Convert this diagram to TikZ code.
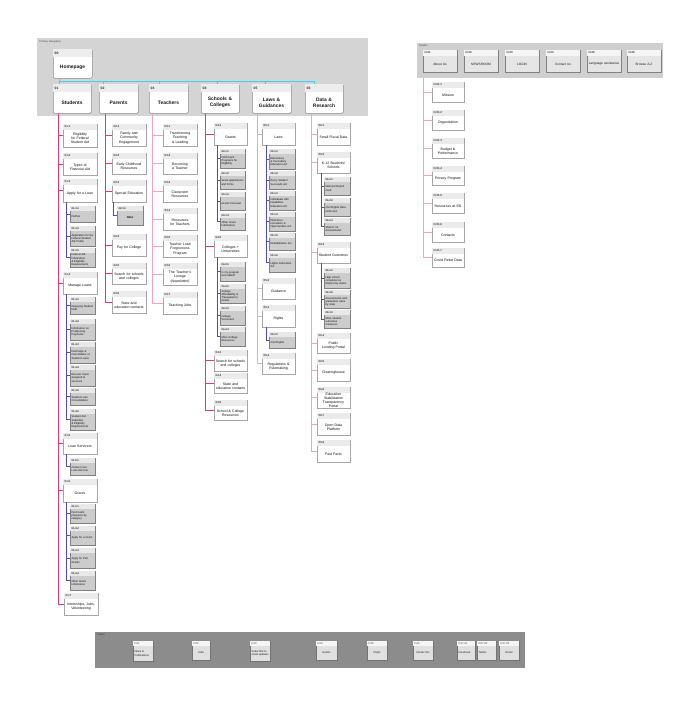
\documentclass[tikz,border=0pt]{standalone}
\usepackage{fontspec}
\setmainfont{Liberation Sans}
\hyphenpenalty=10000
\exhyphenpenalty=10000
\tolerance=9999
\emergencystretch=5pt
\hbadness=10000
\definecolor{redline}{HTML}{E8366E}
\definecolor{pinkline}{HTML}{F4A3BE}
\definecolor{blueline}{HTML}{4B4BC6}
\definecolor{cyanline}{HTML}{3CCFF0}
\tikzset{
  Lbody/.style={draw=black!45, fill=white, rounded corners=1.2pt, line width=0.5pt, inner sep=0pt},
  Lhead/.style={fill=black!7},
  Lid/.style={font=\fontsize{3.4}{4}\selectfont\bfseries, text=black!85, inner sep=0pt},
  Ltxt/.style={font=\fontsize{4.9}{5.7}\selectfont\bfseries, align=center, inner sep=0pt, text=black!90},
  Cbody/.style={draw=black!35, fill=white, line width=0.45pt, inner sep=0pt},
  Chead/.style={fill=black!8},
  Cid/.style={font=\fontsize{2.8}{3.2}\selectfont\bfseries, text=black!80, inner sep=0pt},
  Ctxt/.style={font=\fontsize{3.5}{4.1}\selectfont, align=center, inner sep=0pt, text=black!95},
  Gbody/.style={draw=black!50, fill=black!20, line width=0.45pt, inner sep=0pt},
  Ghead/.style={fill=black!9},
  Gid/.style={font=\fontsize{2.6}{3}\selectfont\bfseries, text=black!85, inner sep=0pt},
  Gtxt/.style={font=\fontsize{2.7}{3.2}\selectfont, align=left, inner sep=0pt, text=black!95},
  Hbody/.style={draw=black!50, fill=black!10, line width=0.45pt, inner sep=0pt},
  Hhead/.style={fill=black!4},
  Hid/.style={font=\fontsize{2.8}{3.2}\selectfont\bfseries, text=black!80, inner sep=0pt},
  Htxt/.style={font=\fontsize{3.2}{3.8}\selectfont, align=center, inner sep=0pt, text=black!90},
  Fbody/.style={draw=black!55, fill=black!12, line width=0.45pt, inner sep=0pt},
  Fhead/.style={fill=black!4},
  Fid/.style={font=\fontsize{2.6}{3}\selectfont, text=black!80, inner sep=0pt},
  Ftxt/.style={font=\fontsize{2.7}{3.2}\selectfont, align=left, inner sep=0pt, text=black!90},
  redl/.style={draw=redline, line width=0.8pt},
  pinkl/.style={draw=pinkline, line width=0.8pt},
  bluel/.style={draw=blueline, line width=0.6pt},
  cyanl/.style={draw=cyanline, line width=0.8pt},
  bandlabel/.style={font=\fontsize{2.6}{3}\selectfont, text=black!70, inner sep=0pt, anchor=north west},
}
% #1 kind, #2 name, #3 x, #4 y, #5 w, #6 h, #7 header height, #8 id, #9 label
\newcommand\bx[9]{%
  \pgfmathsetmacro\bxtw{#5-3}%
  \node[#1body, anchor=north west, minimum width=#5pt, minimum height=#6pt] (#2) at (#3,#4) {};
  \fill[#1head] ({#3+0.4},{#4+0.4}) rectangle ({#3+#5-0.4},{#4+#7});
  \node[#1id, anchor=west] (#2i) at ({#3+1.5},{#4+#7/2}) {#8};
  \node[#1txt, text width=\bxtw pt] (#2t) at ({#3+#5/2},{#4+(#6+#7)/2}) {#9};
}
\begin{document}
\begin{tikzpicture}[x=1pt,y=-1pt]
\path[use as bounding box, fill=white] (0,0) rectangle (700,713);

% ---------- bands ----------
\fill[black!17] (37,38) rectangle (368,116);
\node[bandlabel] (plab) at (39,40) {Primary Navigation};
\fill[black!19] (417,43) rectangle (663,78);
\node[bandlabel] (hlab) at (419,44.5) {Header};
\fill[black!45] (95,632) rectangle (525,668);
\node[bandlabel, text=black!80] (flab) at (97,634) {Footer};

% ---------- primary navigation ----------
\bx{L}{home}{53}{49}{39}{29}{8}{00}{Homepage}
\bx{L}{l01}{53}{84}{38}{29}{8}{01}{Students}
\bx{L}{l02}{99}{84}{39}{29}{8}{02}{Parents}
\bx{L}{l03}{149}{84}{39}{29}{8}{03}{Teachers}
\bx{L}{l04}{201}{84}{38}{29}{8}{04}{Schools \& Colleges}
\bx{L}{l05}{252}{84}{39}{29}{8}{05}{Laws \& Guidances}
\bx{L}{l06}{305}{84}{38}{29}{8}{06}{Data \& Research}

\coordinate (bus) at (59,81);
\draw[cyanl] (home.south -| bus) -- (bus) -- (l01.north -| bus);
\draw[cyanl] (bus) -| ([xshift=4pt]l02.north west);
\draw[cyanl] (bus) -| ([xshift=10pt]l03.north west);
\draw[cyanl] (bus) -| ([xshift=16pt]l04.north west);
\draw[cyanl] (bus) -| ([xshift=13pt]l05.north west);
\draw[cyanl] (bus) -| ([xshift=9pt]l06.north west);

% ---------- column 01 ----------
\bx{C}{c011}{63}{124}{34}{23}{6}{01.1}{Eligibility for Federal Student Aid}
\bx{C}{c012}{63}{153}{34}{22}{6}{01.2}{Types of Financial Aid}
\bx{C}{c013}{63}{179}{34}{23}{6}{01.3}{Apply for a Loan}
\bx{G}{g0131}{70}{206}{25}{16}{5}{01.3.1}{FAFSA}
\bx{G}{g0132}{70}{226}{25}{20}{5}{01.3.2}{Application for the Federal Student Aid Profile}
\bx{G}{g0133}{70}{248}{25}{19}{5}{01.3.3}{Federal Aid Information \& Eligibility Requirements}
\bx{C}{c014}{63}{272}{34}{22}{6}{01.4}{Manage Loans}
\bx{G}{g0141}{70}{297}{25}{17}{5}{01.4.1}{Repaying Student Debt}
\bx{G}{g0142}{70}{319}{25}{21}{5}{01.4.2}{Information on Postponing Payments}
\bx{G}{g0143}{70}{342}{25}{21}{5}{01.4.3}{Discharge \& Cancellation of Student Loans}
\bx{G}{g0144}{70}{365}{25}{21}{5}{01.4.4}{Recover loans assigned to servicers}
\bx{G}{g0145}{70}{388}{25}{17}{5}{01.4.5}{Student Loan Consolidation}
\bx{G}{g0146}{70}{409}{25}{21}{5}{01.4.6}{Student Aid Subsidies \& Eligibility Requirements}
\bx{C}{c015}{63}{433}{34}{21}{6}{01.5}{Loan Servicers}
\bx{G}{g0151}{70}{458}{25}{17}{5}{01.5.1}{Contact your Loan Servicer}
\bx{C}{c016}{63}{479}{34}{23}{6}{01.6}{Grants}
\bx{G}{g0161}{70}{504}{25}{19}{5}{01.6.1}{Find Grant programs by category}
\bx{G}{g0162}{70}{526}{25}{19}{5}{01.6.2}{Apply for a Grant}
\bx{G}{g0163}{70}{548}{25}{20}{5}{01.6.3}{Apply for Pell Grants}
\bx{G}{g0164}{70}{571}{25}{19}{5}{01.6.4}{Other Grant Information}
\bx{C}{c017}{64}{593}{34}{22}{6}{01.7}{Internships, Jobs, Volunteering}
\foreach \n in {c011,c012,c013,c014,c015,c016,c017}
  \draw[redl] ([xshift=5pt]l01.south west) |- (\n.west);
\foreach \n in {g0131,g0132,g0133} \draw[bluel] ([xshift=3pt]c013.south west) |- (\n.west);
\foreach \n in {g0141,g0142,g0143,g0144,g0145,g0146} \draw[bluel] ([xshift=3pt]c014.south west) |- (\n.west);
\draw[bluel] ([xshift=3pt]c015.south west) |- (g0151.west);
\foreach \n in {g0161,g0162,g0163,g0164} \draw[bluel] ([xshift=3pt]c016.south west) |- (\n.west);

% ---------- column 02 ----------
\bx{C}{c021}{112}{124}{34}{22}{6}{02.1}{Family and Community Engagement}
\bx{C}{c022}{112}{153}{34}{21}{6}{02.2}{Early Childhood Resources}
\bx{C}{c023}{112}{180}{34}{22}{6}{02.3}{Special Education}
\bx{G}{g0231}{117}{206}{26}{19}{5}{02.3.1}{\hfil\bfseries IDEA}
\bx{C}{c024}{112}{234}{34}{22}{6}{02.4}{Pay for College}
\bx{C}{c025}{112}{263}{34}{21}{6}{02.5}{Search for schools and colleges}
\bx{C}{c026}{112}{291}{34}{22}{6}{02.6}{State and education contacts}
\foreach \n in {c021,c022,c023,c024,c025,c026}
  \draw[redl] ([xshift=6pt]l02.south west) |- (\n.west);
\draw[bluel] ([xshift=1.5pt]c023.south west) |- (g0231.west);

% ---------- column 03 ----------
\bx{C}{c031}{163}{124}{34}{22}{6}{03.1}{Transforming Teaching \& Leading}
\bx{C}{c032}{163}{153}{34}{21}{6}{03.2}{Becoming a Teacher}
\bx{C}{c033}{163}{180}{34}{22}{6}{03.3}{Classroom Resources}
\bx{C}{c034}{163}{208}{34}{22}{6}{03.4}{Resources for Teachers}
\bx{C}{c035}{163}{235}{34}{22}{6}{03.5}{Teacher Loan Forgiveness Program}
\bx{C}{c036}{163}{263}{34}{22}{6}{03.6}{The Teacher's Lounge (Newsletter)}
\bx{C}{c037}{163}{292}{34}{22}{6}{03.7}{Teaching Jobs}
\foreach \n in {c031,c032,c033,c034,c035,c036,c037}
  \draw[pinkl] ([xshift=3pt]l03.south west) |- (\n.west);

% ---------- column 04 ----------
\bx{C}{c041}{214}{123}{33}{22}{6}{04.1}{Grants}
\bx{G}{g0411}{220}{149}{25}{19}{5}{04.1.1}{Find Grant Programs for Eligibility}
\bx{G}{g0412}{220}{171}{25}{18}{5}{04.1.2}{Grant applications and forms}
\bx{G}{g0413}{220}{192}{25}{18}{5}{04.1.3}{Grants Forecast}
\bx{G}{g0414}{220}{213}{25}{17}{5}{04.1.4}{Other Grant Information}
\bx{C}{c042}{214}{235}{33}{22}{6}{04.2}{Colleges + Universities}
\bx{G}{g0421}{220}{262}{25}{19}{5}{04.2.1}{Is my program accredited?}
\bx{G}{g0422}{220}{284}{25}{19}{5}{04.2.2}{College Affordability \& Transparency Center}
\bx{G}{g0423}{220}{306}{25}{19}{5}{04.2.3}{College Scorecard}
\bx{G}{g0424}{220}{327}{25}{19}{5}{04.2.4}{More College Resources}
\bx{C}{c043}{214}{350}{33}{21}{6}{04.3}{Search for schools and colleges}
\bx{C}{c044}{214}{373}{33}{20}{6}{04.4}{State and education contacts}
\bx{C}{c045}{214}{400}{33}{20}{6}{04.5}{School \& College Resources}
\foreach \n in {c041,c042,c043,c044,c045}
  \draw[redl] ([xshift=4pt]l04.south west) |- (\n.west);
\foreach \n in {g0411,g0412,g0413,g0414} \draw[bluel] ([xshift=3pt]c041.south west) |- (\n.west);
\foreach \n in {g0421,g0422,g0423,g0424} \draw[bluel] ([xshift=3pt]c042.south west) |- (\n.west);

% ---------- column 05 ----------
\bx{C}{c051}{262}{123}{33}{22}{6}{05.1}{Laws}
\bx{G}{g0511}{269}{149}{26}{20}{5}{05.1.1}{Elementary \& Secondary Education Act}
\bx{G}{g0512}{269}{171}{26}{18}{5}{05.1.2}{Every Student Succeeds Act}
\bx{G}{g0513}{269}{191}{26}{19}{5}{05.1.3}{Individuals with Disabilities Education Act}
\bx{G}{g0514}{269}{212}{26}{19}{5}{05.1.4}{Workforce Innovation \& Opportunities Act}
\bx{G}{g0515}{269}{233}{26}{17}{5}{05.1.5}{Rehabilitation Act}
\bx{G}{g0516}{269}{253}{26}{19}{5}{05.1.6}{Higher Education Act}
\bx{C}{c052}{262}{278}{33}{21}{6}{05.2}{Guidance}
\bx{C}{c053}{262}{305}{33}{22}{6}{05.3}{Rights}
\bx{G}{g0531}{269}{332}{26}{16}{5}{05.3.1}{Civil Rights}
\bx{C}{c054}{262}{353}{33}{21}{6}{05.4}{Regulations \& Rulemaking}
\foreach \n in {c051,c052,c053,c054}
  \draw[pinkl] ([xshift=5pt]l05.south west) |- (\n.west);
\foreach \n in {g0511,g0512,g0513,g0514,g0515,g0516} \draw[bluel] ([xshift=4pt]c051.south west) |- (\n.west);
\draw[bluel] ([xshift=4pt]c053.south west) |- (g0531.west);

% ---------- column 06 ----------
\bx{C}{c061}{317}{123}{33}{22}{6}{06.1}{Small Fiscal Data}
\bx{C}{c062}{317}{152}{33}{21}{6}{06.2}{K-12 Students/ Schools}
\bx{G}{g0621}{324}{177}{26}{18}{5}{06.2.1}{National Report Card}
\bx{G}{g0622}{324}{198}{26}{18}{5}{06.2.2}{Civil Rights Data Collection}
\bx{G}{g0623}{324}{218}{26}{17}{5}{06.2.3}{State K-12 Assessments}
\bx{C}{c063}{317}{242}{33}{21}{6}{06.3}{Student Outcomes}
\bx{G}{g0631}{324}{268}{26}{20}{5}{06.3.1}{High school completion \& dropout by states}
\bx{G}{g0632}{324}{290}{26}{18}{5}{06.3.2}{Assessments and graduation rates by state}
\bx{G}{g0633}{324}{310}{26}{18}{5}{06.3.3}{More student outcomes measures}
\bx{C}{c064}{317}{333}{33}{20}{6}{06.4}{Public Lending Portal}
\bx{C}{c065}{317}{359}{33}{22}{6}{06.5}{Clearinghouse}
\bx{C}{c066}{317}{387}{33}{21}{6}{06.6}{Education Stabilization Transparency Portal}
\bx{C}{c067}{317}{413}{33}{22}{6}{06.7}{Open Data Platform}
\bx{C}{c068}{317}{440}{33}{22}{6}{06.8}{Fast Facts}
\foreach \n in {c061,c062,c063,c064,c065,c066,c067,c068}
  \draw[pinkl] ([xshift=6pt]l06.south west) |- (\n.west);
\foreach \n in {g0621,g0622,g0623} \draw[bluel] ([xshift=4pt]c062.south west) |- (\n.west);
\foreach \n in {g0631,g0632,g0633} \draw[bluel] ([xshift=4pt]c063.south west) |- (\n.west);

% ---------- header navigation ----------
\bx{H}{h01}{423}{50}{34}{22}{6}{H.01}{About Us}
\bx{H}{h02}{464}{50}{34}{22}{6}{H.02}{NEWSROOM}
\bx{H}{h03}{505}{50}{34}{22}{6}{H.03}{LOGIN}
\bx{H}{h04}{546}{50}{34}{22}{6}{H.04}{Contact Us}
\bx{H}{h05}{587}{50}{34}{22}{6}{H.05}{Language assistance}
\bx{H}{h06}{627}{50}{34}{22}{6}{H.06}{Browse A-Z}

\bx{C}{a1}{432}{82}{32}{20}{6}{H.01.1}{Mission}
\bx{C}{a2}{432}{110}{32}{20}{6}{H.01.2}{Organization}
\bx{C}{a3}{432}{138}{32}{20}{6}{H.01.3}{Budget \& Performance}
\bx{C}{a4}{432}{166}{32}{19}{6}{H.01.4}{Privacy Program}
\bx{C}{a5}{432}{193}{32}{20}{6}{H.01.5}{Resources at ED}
\bx{C}{a6}{432}{222}{32}{20}{6}{H.01.6}{Contacts}
\bx{C}{a7}{432}{248}{32}{19}{6}{H.01.7}{Covid Relief Data}
\coordinate (hbase) at (423,78);
\foreach \n in {a1,a2,a3,a4,a5,a6,a7}
  \draw[pinkl] (hbase) |- (\n.west);

% ---------- footer ----------
\bx{F}{f01}{133}{641}{20}{20}{5}{F.01}{News \& Publications}
\bx{F}{f02}{192}{641}{18}{19}{5}{F.02}{\hfil Jobs}
\bx{F}{f03}{250}{641}{20}{20}{5}{F.03}{Subscribe to email updates}
\bx{F}{f04}{316}{641}{21}{19}{5}{F.04}{\hfil Grants}
\bx{F}{f05}{367}{641}{20}{19}{5}{F.05}{\hfil FAQs}
\bx{F}{f06}{413}{641}{20}{19}{5}{F.06}{\hfil Contact Us}
\bx{F}{f07}{457}{641}{18}{19}{5}{F.07.01}{Facebook}
\bx{F}{f08}{477}{641}{19}{19}{5}{F.07.02}{Twitter}
\bx{F}{f09}{499}{641}{20}{19}{5}{F.07.03}{\hfil Email}
\end{tikzpicture}
\end{document}
